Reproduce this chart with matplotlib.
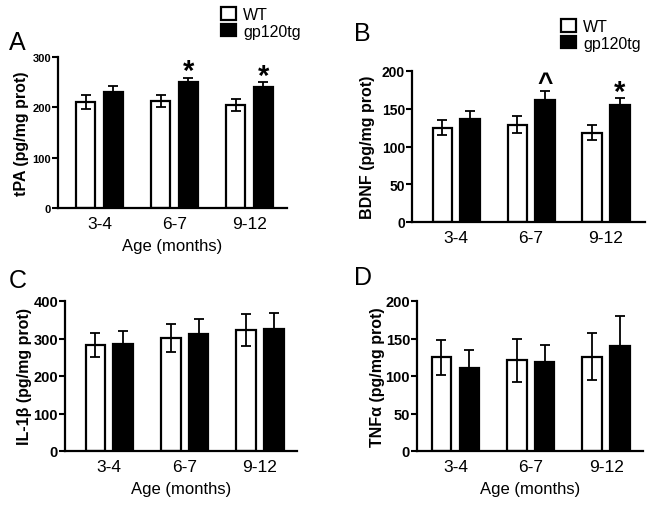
import matplotlib.pyplot as plt
import numpy as np

plt.rcParams['font.family'] = ['Liberation Sans', 'DejaVu Sans']

ages = ['3-4', '6-7', '9-12']
groups = ['WT', 'gp120tg']

tpa_wt = [210, 213, 205]
tpa_wt_err = [14, 12, 12]
tpa_tg = [230, 250, 240]
tpa_tg_err = [13, 9, 10]
tpa_marks = ['', '*', '*']

bdnf_wt = [125, 129, 118]
bdnf_wt_err = [10, 11, 10]
bdnf_tg = [136, 161, 155]
bdnf_tg_err = [11, 12, 9]
bdnf_marks = ['', '^', '*']

il1b_wt = [282, 302, 323]
il1b_wt_err = [32, 38, 43]
il1b_tg = [286, 312, 326]
il1b_tg_err = [35, 39, 43]

tnfa_wt = [125, 121, 126]
tnfa_wt_err = [23, 29, 31]
tnfa_tg = [111, 119, 140]
tnfa_tg_err = [24, 22, 40]

W, H = 655, 510


def px_axes(x0, y0, x1, y1):
	# pixel box (top-left origin) -> figure fraction rect
	return [x0 / W, 1 - y1 / H, (x1 - x0) / W, (y1 - y0) / H]


def panel(fig, rect, xlim, wt, wt_err, tg, tg_err, ymax, ystep, ylabel,
		  tick_fs, label_x, marks=None, xlabel=True):
	ax = fig.add_axes(px_axes(*rect))
	x = np.arange(len(ages))
	off = 0.185
	width = 0.26
	b1 = ax.bar(x - off, wt, width, color='white', edgecolor='black',
				linewidth=1.6, zorder=2, label=groups[0])
	b2 = ax.bar(x + off, tg, width, color='black', edgecolor='black',
				linewidth=1.6, zorder=2, label=groups[1])
	ax.errorbar(x - off, wt, yerr=wt_err, fmt='none', ecolor='black',
				elinewidth=1.3, capsize=3.5, capthick=1.3, zorder=3)
	ax.errorbar(x + off, tg, yerr=tg_err, fmt='none', ecolor='black',
				elinewidth=1.3, capsize=3.5, capthick=1.3, zorder=3)
	if marks:
		for i, m in enumerate(marks):
			if not m:
				continue
			fs = 21 if m == '*' else 19
			dy = -1 if m == '*' else 1
			ax.annotate(m, (x[i] + off, tg[i] + tg_err[i]), xytext=(0, dy),
						textcoords='offset points', ha='center', va='baseline',
						fontsize=fs, fontweight='bold')

	ax.set_xlim(*xlim)
	ax.set_ylim(0, ymax)
	ax.set_yticks(np.arange(0, ymax + 1, ystep))
	ax.set_xticks(x)
	ax.set_xticklabels(ages, fontsize=12.5)
	for lab in ax.get_yticklabels():
		lab.set_fontweight('bold')
		lab.set_fontsize(tick_fs)
	ax.tick_params(axis='x', length=0, pad=6)
	ax.tick_params(axis='y', length=4, width=1.5, pad=1)
	for s in ['top', 'right']:
		ax.spines[s].set_visible(False)
	for s in ['left', 'bottom']:
		ax.spines[s].set_linewidth(1.6)
	ax.set_ylabel(ylabel, fontsize=11.5, fontweight='bold')
	# right edge of rotated label, in figure pixels
	ax.yaxis.set_label_coords((label_x - rect[0]) / (rect[2] - rect[0]), 0.5)
	if xlabel:
		ax.set_xlabel('Age (months)', fontsize=12, labelpad=5)
	return ax, b1, b2


fig = plt.figure(figsize=(6.55, 5.1), dpi=100)

axA, a1, a2 = panel(fig, (58, 58, 287, 209), (-0.553, 2.5), tpa_wt, tpa_wt_err,
					tpa_tg, tpa_tg_err, 300, 100, 'tPA (pg/mg prot)', 8, 29,
					marks=tpa_marks)
axB, bb1, bb2 = panel(fig, (412, 72, 645, 223), (-0.59, 2.52), bdnf_wt,
					  bdnf_wt_err, bdnf_tg, bdnf_tg_err, 200, 50,
					  'BDNF (pg/mg prot)', 10, 375, marks=bdnf_marks,
					  xlabel=False)
axC, c1, c2 = panel(fig, (65, 302, 297, 452), (-0.587, 2.49), il1b_wt,
					il1b_wt_err, il1b_tg, il1b_tg_err, 400, 100,
					'IL-1β (pg/mg prot)', 10.5, 32)
axD, d1, d2 = panel(fig, (417, 302, 643, 452), (-0.51, 2.49), tnfa_wt,
					tnfa_wt_err, tnfa_tg, tnfa_tg_err, 200, 50,
					'TNFα (pg/mg prot)', 10.5, 385)

# legends
for ax, h, (lx, ly) in [(axA, [a1, a2], (221, 8)), (axB, [bb1, bb2], (561, 20))]:
	ax.legend(h, groups, loc='upper left', bbox_to_anchor=(lx / W, 1 - ly / H),
			  bbox_transform=fig.transFigure, frameon=False, fontsize=11.5,
			  handlelength=0.95, handleheight=0.8, handletextpad=0.45,
			  labelspacing=0.12, borderpad=0, borderaxespad=0)

# panel letters
for letter, (lx, ly) in zip('ABCD', [(9, 50), (354, 41), (9, 288), (354, 285)]):
	fig.text(lx / W, 1 - ly / H, letter, fontsize=18, va='baseline', ha='left')

fig.savefig('out.png', dpi=100)
